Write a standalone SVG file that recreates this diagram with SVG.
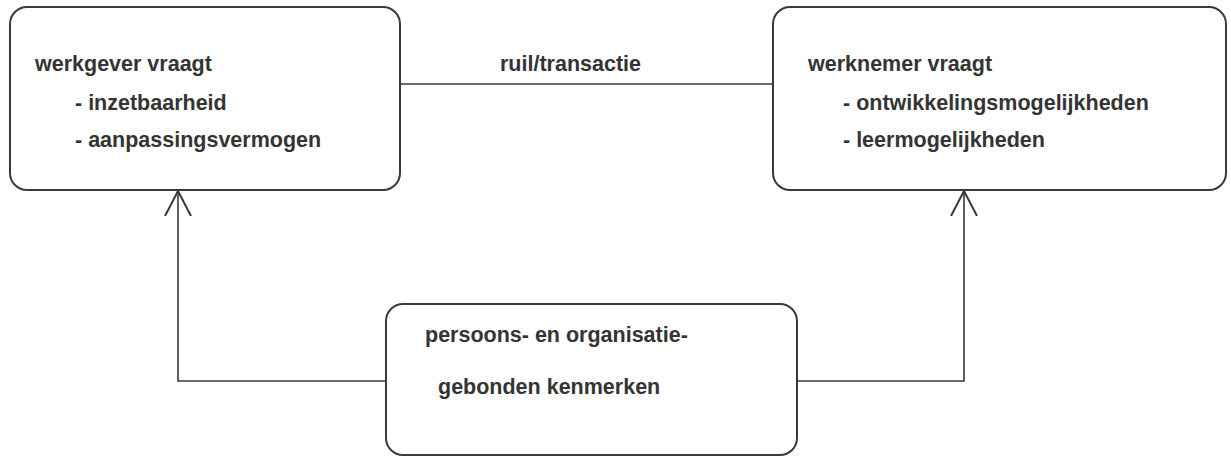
<svg xmlns="http://www.w3.org/2000/svg" width="1231" height="457" viewBox="0 0 1231 457">
<style>
.box{fill:#fff;stroke:#3a3a3a;stroke-width:2}
.t{font-family:"Liberation Sans",Arial,sans-serif;font-weight:bold;font-size:21.5px;fill:#343434}
.c{fill:none;stroke:#3a3a3a;stroke-width:1.6}
</style>
<defs>
<marker id="arr" viewBox="0 0 27 30" refX="25" refY="15" markerWidth="27" markerHeight="30" markerUnits="userSpaceOnUse" orient="auto">
<path d="M0,2 L25,15 L0,28" fill="none" stroke="#3a3a3a" stroke-width="2"/>
</marker>
</defs>
<rect width="1231" height="457" fill="#fff"/>
<g id="connectors">
<path class="c" d="M400,84 H773"/>
<path class="c" d="M386,381 H178 V191" marker-end="url(#arr)"/>
<path class="c" d="M797,381 H964 V191" marker-end="url(#arr)"/>
</g>
<g id="werkgever">
<rect class="box" x="10" y="7" width="390" height="183" rx="17"/>
<text class="t" x="35" y="71">werkgever vraagt</text>
<text class="t" x="75" y="110">- inzetbaarheid</text>
<text class="t" x="75" y="147">- aanpassingsvermogen</text>
</g>
<g id="werknemer">
<rect class="box" x="773" y="7" width="453" height="183" rx="17"/>
<text class="t" x="808" y="71">werknemer vraagt</text>
<text class="t" x="843" y="110">- ontwikkelingsmogelijkheden</text>
<text class="t" x="843" y="147">- leermogelijkheden</text>
</g>
<g id="transactie">
<text class="t" x="500" y="71">ruil/transactie</text>
</g>
<g id="kenmerken">
<rect class="box" x="386" y="304" width="411" height="151" rx="17"/>
<text class="t" x="425" y="342">persoons- en organisatie-</text>
<text class="t" x="438" y="394">gebonden kenmerken</text>
</g>
</svg>
